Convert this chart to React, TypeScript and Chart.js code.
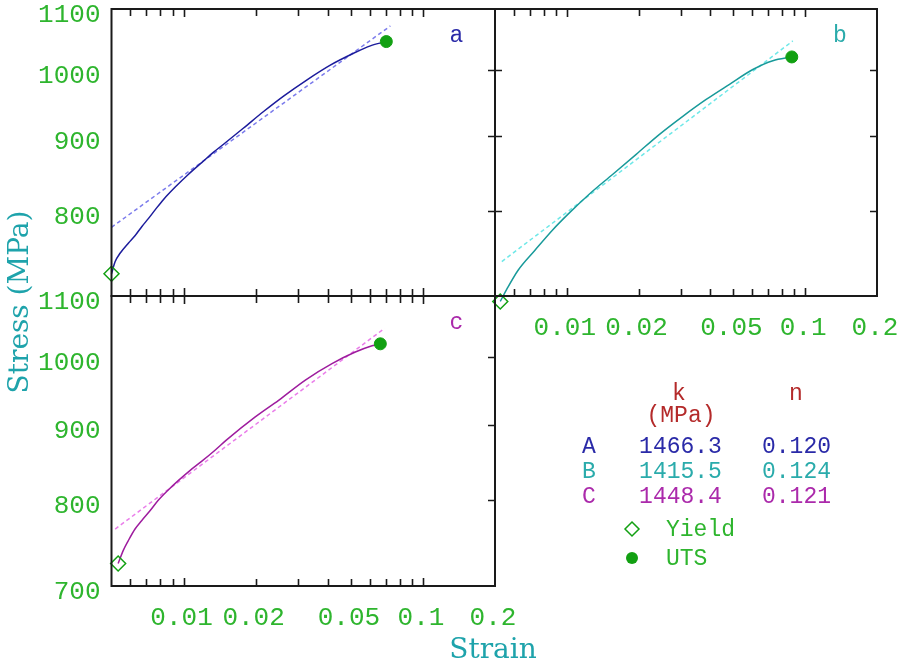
import { useEffect, useRef } from 'react';
import Chart from 'chart.js/auto';

// true strain / true stress (MPa), yield first, UTS last
const strainA = [0.005, 0.00518, 0.00544, 0.00589, 0.00628, 0.0067, 0.00714, 0.00762, 0.00825, 0.00923, 0.01049, 0.01194, 0.01335, 0.01469, 0.01781, 0.02159, 0.02617, 0.0328, 0.04102, 0.05133, 0.06029, 0.07031];
const stressA = [725, 739, 749, 761, 770, 781, 791, 802, 815, 831, 848, 864, 878, 889, 912, 936, 959, 984, 1007, 1026, 1038, 1045];
const strainB = [0.00526, 0.00559, 0.00625, 0.00734, 0.00874, 0.0101, 0.01245, 0.0156, 0.01955, 0.02448, 0.03066, 0.03843, 0.04814, 0.06029, 0.07313, 0.08784];
const stressB = [694, 707, 729, 752, 777, 796, 822, 848, 875, 903, 929, 954, 977, 1000, 1014, 1020];
const strainC = [0.00533, 0.0056, 0.00587, 0.00627, 0.00668, 0.00724, 0.00784, 0.00863, 0.0095, 0.01063, 0.01189, 0.01353, 0.01513, 0.01993, 0.02495, 0.03227, 0.0417, 0.05218, 0.06129, 0.06637];
const stressC = [725, 740, 751, 765, 775, 787, 800, 813, 825, 838, 850, 865, 879, 911, 935, 965, 990, 1008, 1018, 1021];

// ends of the dashed power-law fit lines
const fitStrainA = [0.005, 0.0731];
const fitStressA = [780, 1071];
const fitStrainB = [0.00534, 0.0887];
const fitStressB = [739, 1046];
const fitStrainC = [0.00518, 0.0692];
const fitStressC = [765, 1046];

// fit table
const specimens = ['A', 'B', 'C'];
const kValues = ['1466.3', '1415.5', '1448.4'];
const nValues = ['0.120', '0.124', '0.121'];

// axes
const xMinorTicks = [0.006, 0.007, 0.008, 0.009, 0.01, 0.02, 0.03, 0.04, 0.05, 0.06, 0.07, 0.08, 0.09, 0.1];
const xTickValues = [0.01, 0.02, 0.05, 0.1, 0.2];
const xTickLabels = ['0.01', '0.02', '0.05', '0.1', '0.2'];
const yTickValues = [800, 900, 1000];
const yLabelsTop = [1100, 1000, 900, 800];
const yLabelsBottom = [1100, 1000, 900, 800, 700];

const W = 900;
const H = 662;
const GREEN = '#12a012';
const LABEL_GREEN = '#2eb52e';
const FRAME = '#1a1a1a';
const TEAL_TITLE = '#1ea3ab';
const MONO = '"Liberation Mono", "DejaVu Sans Mono", monospace';
const SERIF = '"DejaVu Serif", "Liberation Serif", serif';

const COLORS = {
  A: { line: '#1c1c9c', fit: '#7c7cec', text: '#2a2aa8' },
  B: { line: '#189a9a', fit: '#6ee8e8', text: '#2aabab' },
  C: { line: '#9e1c9e', fit: '#ea7eea', text: '#ab2aab' },
};

interface Box { left: number; top: number; right: number; bottom: number; }

interface PanelProps {
  letter: string;
  box: Box;
  strain: number[];
  stress: number[];
  fitStrain: number[];
  fitStress: number[];
  colors: { line: string; fit: string; text: string };
  yLabels: number[] | null;
  xLabels: boolean;
  leftTicks: boolean;
  decor?: boolean;
}

const toPoints = (xs: number[], ys: number[]) => xs.map((x, i) => ({ x, y: ys[i] }));

function drawDecor(ctx: CanvasRenderingContext2D) {
  ctx.save();
  // axis titles
  ctx.fillStyle = TEAL_TITLE;
  ctx.font = `28px ${SERIF}`;
  ctx.textAlign = 'center';
  ctx.textBaseline = 'alphabetic';
  ctx.fillText('Strain', 493, 658);
  ctx.save();
  ctx.translate(28, 302);
  ctx.rotate(-Math.PI / 2);
  ctx.fillText('Stress (MPa)', 0, 0);
  ctx.restore();

  // fit table
  ctx.font = `23px ${MONO}`;
  ctx.fillStyle = '#b42a2a';
  ctx.fillText('k', 679, 400);
  ctx.fillText('n', 796, 400);
  ctx.fillText('(MPa)', 681, 422);
  const rowY = [453, 477.5, 502.5];
  const cols = [COLORS.A.text, COLORS.B.text, COLORS.C.text];
  specimens.forEach((s, i) => {
    ctx.fillStyle = cols[i];
    ctx.fillText(s, 589, rowY[i]);
    ctx.fillText(kValues[i], 680.5, rowY[i]);
    ctx.fillText(nValues[i], 796.5, rowY[i]);
  });

  // marker key
  ctx.strokeStyle = GREEN;
  ctx.lineWidth = 1.5;
  ctx.beginPath();
  ctx.moveTo(632, 522);
  ctx.lineTo(639, 529);
  ctx.lineTo(632, 536);
  ctx.lineTo(625, 529);
  ctx.closePath();
  ctx.stroke();
  ctx.fillStyle = GREEN;
  ctx.beginPath();
  ctx.arc(632, 558, 6, 0, Math.PI * 2);
  ctx.fill();
  ctx.textAlign = 'left';
  ctx.fillStyle = LABEL_GREEN;
  ctx.fillText('Yield', 666, 536);
  ctx.fillText('UTS', 666, 565);
  ctx.restore();
}

function Panel(props: PanelProps) {
  const canvasRef = useRef<HTMLCanvasElement | null>(null);
  const chartRef = useRef<Chart | null>(null);

  useEffect(() => {
    if (!canvasRef.current) return;
    if (chartRef.current) chartRef.current.destroy();
    const { box, colors } = props;

    const framePlugin = {
      id: 'frame' + props.letter,
      afterDatasetsDraw(chart: any) {
        const { ctx, chartArea } = chart;
        const { left, right, top, bottom } = chartArea;
        const x = chart.scales.x;
        const y = chart.scales.y;
        ctx.save();
        ctx.strokeStyle = FRAME;
        ctx.lineWidth = 2;
        ctx.strokeRect(left, top, right - left, bottom - top);
        ctx.lineWidth = 1.6;
        ctx.beginPath();
        xMinorTicks.forEach((v) => {
          const px = Math.round(x.getPixelForValue(v)) + 0.5;
          const len = v === 0.01 || v === 0.1 ? 8 : 7;
          ctx.moveTo(px, top);
          ctx.lineTo(px, top + len);
          ctx.moveTo(px, bottom);
          ctx.lineTo(px, bottom - len);
        });
        yTickValues.forEach((v) => {
          const py = Math.round(y.getPixelForValue(v)) + 0.5;
          ctx.moveTo(right, py);
          ctx.lineTo(right - 7, py);
          if (props.leftTicks) {
            ctx.moveTo(left, py);
            ctx.lineTo(left + 7, py);
          }
        });
        ctx.stroke();

        ctx.fillStyle = LABEL_GREEN;
        ctx.font = `26px ${MONO}`;
        ctx.textBaseline = 'alphabetic';
        if (props.yLabels) {
          ctx.textAlign = 'right';
          props.yLabels.forEach((v) => {
            ctx.fillText(String(v), left - 11, y.getPixelForValue(v) + 13);
          });
        }
        if (props.xLabels) {
          ctx.textAlign = 'center';
          xTickValues.forEach((v, i) => {
            ctx.fillText(xTickLabels[i], x.getPixelForValue(v) - 2, bottom + 39);
          });
        }
        ctx.fillStyle = colors.text;
        ctx.font = `23px ${MONO}`;
        ctx.textAlign = 'center';
        ctx.fillText(props.letter, left + 345, top + 33);
        ctx.restore();
        if (props.decor) drawDecor(ctx);
      },
    };

    const curve = toPoints(props.strain, props.stress);
    chartRef.current = new Chart(canvasRef.current, {
      type: 'scatter',
      data: {
        datasets: [
          {
            label: 'UTS',
            data: [curve[curve.length - 1]],
            pointStyle: 'circle',
            pointRadius: 6,
            backgroundColor: GREEN,
            borderColor: GREEN,
            borderWidth: 1,
            clip: false,
          },
          {
            label: 'Yield',
            data: [curve[0]],
            pointStyle: 'rectRot',
            pointRadius: 7.5,
            backgroundColor: 'rgba(255,255,255,0)',
            borderColor: GREEN,
            borderWidth: 1.5,
            clip: false,
          },
          {
            label: 'Curve',
            data: curve,
            showLine: true,
            borderColor: colors.line,
            borderWidth: 1.5,
            pointRadius: 0,
            cubicInterpolationMode: 'monotone',
            clip: false,
          },
          {
            label: 'Fit',
            data: toPoints(props.fitStrain, props.fitStress),
            showLine: true,
            borderColor: colors.fit,
            borderWidth: 1.5,
            borderDash: [4, 3],
            pointRadius: 0,
            clip: false,
          },
        ],
      } as any,
      options: {
        responsive: false,
        animation: false,
        events: [],
        layout: {
          padding: { left: box.left, top: box.top, right: W - box.right, bottom: H - box.bottom },
        },
        scales: {
          x: { type: 'logarithmic', min: 0.005, max: 0.2, display: false },
          y: { type: 'logarithmic', min: 700, max: 1100, display: false },
        },
        plugins: { legend: { display: false }, tooltip: { enabled: false } },
      },
      plugins: [framePlugin],
    });

    return () => {
      if (chartRef.current) {
        chartRef.current.destroy();
        chartRef.current = null;
      }
    };
  }, []);

  return (
    <canvas
      ref={canvasRef}
      width={W}
      height={H}
      style={{ position: 'absolute', left: 0, top: 0, width: W, height: H }}
    ></canvas>
  );
}

export default function App() {
  return (
    <div
      style={{
        position: 'fixed',
        left: 0,
        top: 0,
        width: W,
        height: H,
        background: '#fff',
        overflow: 'hidden',
      }}
    >
      <Panel
        letter='a'
        box={{ left: 111.5, top: 7, right: 495, bottom: 296 }}
        strain={strainA}
        stress={stressA}
        fitStrain={fitStrainA}
        fitStress={fitStressA}
        colors={COLORS.A}
        yLabels={yLabelsTop}
        xLabels={false}
        leftTicks={false}
      />
      <Panel
        letter='b'
        box={{ left: 495, top: 7, right: 877, bottom: 296 }}
        strain={strainB}
        stress={stressB}
        fitStrain={fitStrainB}
        fitStress={fitStressB}
        colors={COLORS.B}
        yLabels={null}
        xLabels={true}
        leftTicks={true}
      />
      <Panel
        letter='c'
        box={{ left: 111.5, top: 296, right: 495, bottom: 586 }}
        strain={strainC}
        stress={stressC}
        fitStrain={fitStrainC}
        fitStress={fitStressC}
        colors={COLORS.C}
        yLabels={yLabelsBottom}
        xLabels={true}
        leftTicks={false}
        decor
      />
    </div>
  );
}
